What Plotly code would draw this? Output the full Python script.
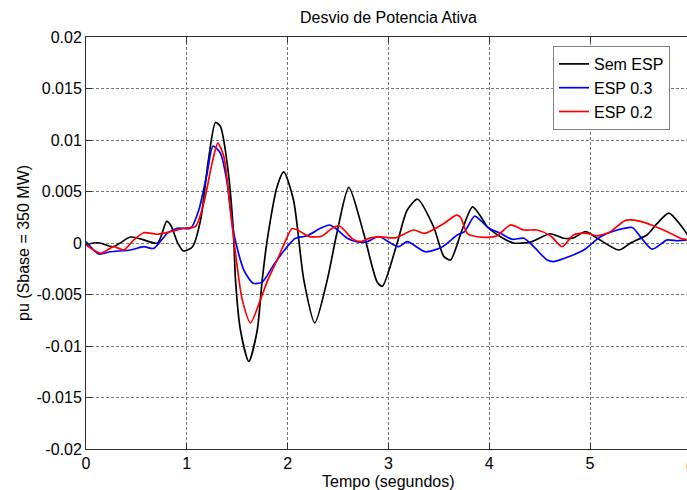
import plotly.graph_objects as go

# ---- data ----
t_sem = [0.0, 0.074, 0.14, 0.27, 0.44, 0.54, 0.71, 0.80, 0.84, 0.91, 0.967, 1.057, 1.136, 1.215, 1.285,
         1.334, 1.405, 1.463, 1.483, 1.533, 1.615, 1.698, 1.748, 1.798, 1.897, 1.962, 2.058, 2.161, 2.27,
         2.393, 2.49, 2.607, 2.753, 2.889, 2.94, 3.087, 3.187, 3.29, 3.447, 3.55, 3.616, 3.732, 3.835,
         3.914, 3.98, 4.112, 4.241, 4.41, 4.608, 4.737, 4.836, 4.955, 5.071, 5.286, 5.402, 5.567, 5.667,
         5.782, 5.898, 5.967, 6.0]
v_sem = [-0.0002, 0.0, 0.0, -0.00036, 0.00058, 0.0004, 0.0, 0.0021, 0.00175, 0.0, -0.00078, -0.00036,
         0.0022, 0.0081, 0.0117, 0.0113, 0.0074, 0.001, -0.0036, -0.0085, -0.0115, -0.0085, -0.0036,
         0.0003, 0.0055, 0.0069, 0.0042, -0.0036, -0.00776, -0.0036, 0.001, 0.0054, 0.001, -0.0038,
         -0.0042, 0.0, 0.0032, 0.00425, 0.0016, -0.0013, -0.00165, 0.0013, 0.0035, 0.0026, 0.0016,
         0.0006, 0.0, 0.0001, 0.0009, 0.00046, 0.0005, 0.0011, 0.00046, -0.00068, 0.0, 0.0008, 0.0019,
         0.0029, 0.00175, 0.0008, 0.0003]

t_esp03 = [0.0, 0.127, 0.243, 0.441, 0.573, 0.673, 0.806, 0.905, 1.037, 1.119, 1.202, 1.26, 1.334, 1.401,
           1.466, 1.565, 1.657, 1.748, 1.863, 1.996, 2.078, 2.194, 2.326, 2.416, 2.475, 2.591, 2.684,
           2.79, 2.902, 3.02, 3.103, 3.187, 3.368, 3.537, 3.686, 3.755, 3.854, 3.914, 3.996, 4.112,
           4.228, 4.343, 4.442, 4.575, 4.641, 4.807, 4.938, 5.104, 5.27, 5.419, 5.501, 5.617, 5.766,
           5.865, 5.967, 6.0]
v_esp03 = [0.00013, -0.00107, -0.00085, -0.00068, -0.00036, -0.00052, 0.00094, 0.00143, 0.00143, 0.0032,
           0.0068, 0.0094, 0.0087, 0.0058, 0.00094, -0.0026, -0.0039, -0.0038, -0.0021, -0.00036,
           0.00046, 0.0007, 0.00143, 0.00175, 0.00143, 0.00046, 0.00013, 0.00013, 0.00063, 0.0,
           -0.00036, 0.00013, -0.00085, -0.00036, 0.0008, 0.0011, 0.0026, 0.0022, 0.00143, 0.00094,
           0.00036, 0.00046, -0.00036, -0.00165, -0.0018, -0.00126, -0.00068, 0.0006, 0.00126, 0.0015,
           0.0006, -0.0006, 0.0003, 0.00022, 0.0003, 0.0002]

t_esp02 = [0.0, 0.144, 0.276, 0.375, 0.474, 0.573, 0.706, 0.838, 0.97, 1.086, 1.169, 1.252, 1.308, 1.367,
           1.434, 1.5, 1.55, 1.632, 1.731, 1.804, 1.897, 1.97, 2.046, 2.128, 2.207, 2.336, 2.442, 2.515,
           2.644, 2.723, 2.822, 2.922, 3.07, 3.252, 3.358, 3.55, 3.676, 3.715, 3.782, 3.834, 3.98, 4.079,
           4.211, 4.343, 4.476, 4.608, 4.724, 4.839, 4.972, 5.071, 5.203, 5.352, 5.501, 5.633, 5.766,
           5.898, 5.967, 6.0]
v_esp02 = [-0.0002, -0.001, -0.00036, -0.00068, 0.0003, 0.001, 0.00085, 0.0011, 0.00143, 0.0016, 0.0039,
           0.0078, 0.0097, 0.0084, 0.003, -0.0023, -0.0055, -0.00775, -0.0055, -0.0036, -0.00165, 0.0,
           0.0014, 0.0011, 0.00065, 0.00065, 0.00143, 0.00165, 0.0004, 0.00013, 0.0005, 0.0006, 0.0005,
           0.00126, 0.00094, 0.0019, 0.0027, 0.0025, 0.00094, 0.0007, 0.00055, 0.0007, 0.00175, 0.00126,
           0.00126, 0.0007, -0.00036, 0.0008, 0.00094, 0.0007, 0.0011, 0.0022, 0.0021, 0.00165, 0.0011,
           0.00046, 0.0003, 0.0002]

series_names = ["Sem ESP", "ESP 0.3", "ESP 0.2"]
series_colors = ["#000000", "#0000ff", "#ff0000"]

y_tickvals = [0.02, 0.015, 0.01, 0.005, 0.0, -0.005, -0.01, -0.015, -0.02]
y_ticktext = ["0.02", "0.015", "0.01", "0.005", "0", "-0.005", "-0.01", "-0.015", "-0.02"]
x_tickvals = [0, 1, 2, 3, 4, 5, 6]
x_ticktext = ["0", "1", "2", "3", "4", "5", "6"]

title_text = "Desvio de Potencia Ativa"
xlabel_text = "Tempo (segundos)"
ylabel_text = "pu (Sbase = 350 MW)"

FONT = "Liberation Sans, Arial, Helvetica, sans-serif"
W, H = 687, 490
ML, MT, MB = 86, 37, 41
PX_PER_UNIT = 100.8
x_end = (W - ML) / PX_PER_UNIT  # axis is cut at the right edge of the picture

fig = go.Figure()
for t, v, name, col in zip([t_sem, t_esp03, t_esp02], [v_sem, v_esp03, v_esp02],
                           series_names, series_colors):
    fig.add_trace(go.Scatter(x=t, y=v, mode="lines", name=name,
                             line=dict(color=col, width=1.7, shape="spline", smoothing=0.7)))

grid_style = dict(showgrid=True, gridcolor="#7a7a7a", gridwidth=1, griddash="3px,2px")

fig.update_xaxes(range=[0, x_end], tickvals=x_tickvals[:-1], ticktext=x_ticktext[:-1],
                 ticks="inside", ticklen=6, tickcolor="#303030", showline=True, linecolor="#303030",
                 linewidth=1, mirror="ticks", zeroline=False,
                 tickfont=dict(family=FONT, size=16, color="#000"), **grid_style)
fig.update_yaxes(range=[-0.02, 0.02], tickvals=y_tickvals, ticktext=y_ticktext,
                 ticks="inside", ticklen=6, tickcolor="#303030", showline=True, linecolor="#303030",
                 linewidth=1, mirror=False, zeroline=False,
                 tickfont=dict(family=FONT, size=16, color="#000"), **grid_style)

plot_w = W - ML
plot_h = H - MT - MB
annotations = [
    dict(text=title_text, xref="paper", yref="paper", x=(388 - ML) / plot_w, y=1 + (MT - 18) / plot_h,
         xanchor="center", yanchor="middle", showarrow=False, font=dict(family=FONT, size=16, color="#000")),
    dict(text=xlabel_text, xref="paper", yref="paper", x=(388 - ML) / plot_w, y=-(481 - (H - MB)) / plot_h,
         xanchor="center", yanchor="middle", showarrow=False, font=dict(family=FONT, size=16, color="#000")),
    dict(text=ylabel_text, xref="paper", yref="paper", x=-(ML - 23) / plot_w, y=0.5, textangle=-90,
         xanchor="center", yanchor="middle", showarrow=False, font=dict(family=FONT, size=16, color="#000")),
    dict(text=x_ticktext[-1], xref="paper", yref="paper", x=(ML + 6 * PX_PER_UNIT - ML) / plot_w,
         y=-(466 - (H - MB)) / plot_h, xanchor="center", yanchor="middle", showarrow=False,
         font=dict(family=FONT, size=16, color="#000")),
]

fig.update_layout(
    width=W, height=H, margin=dict(l=ML, r=0, t=MT, b=MB, pad=0),
    paper_bgcolor="white", plot_bgcolor="white",
    showlegend=True,
    legend=dict(x=(553 - ML) / plot_w, y=1 - (46 - MT) / plot_h, xanchor="left", yanchor="top",
                bgcolor="white", bordercolor="#808080", borderwidth=1,
                font=dict(family=FONT, size=16, color="#000"), tracegroupgap=0),
    annotations=annotations,
)

fig.write_html("out.html")
